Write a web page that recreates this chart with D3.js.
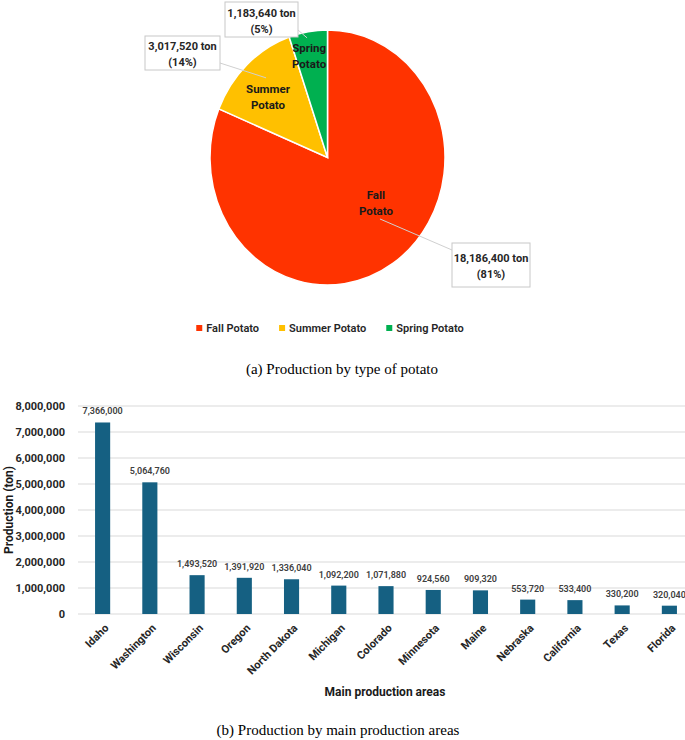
<!DOCTYPE html>
<html>
<head>
<meta charset="utf-8">
<script src="https://cdn.jsdelivr.net/npm/d3@7"></script>
<style>
  body { margin: 0; background: #fff; }
  svg { display: block; }
</style>
</head>
<body>
<div id="chart"></div>
<script>
// pie data
const potatoTypes = ['Fall Potato', 'Summer Potato', 'Spring Potato'];
const potatoLabels = [['Fall', 'Potato'], ['Summer', 'Potato'], ['Spring', 'Potato']];
const potatoTons = [18186400, 3017520, 1183640];
const potatoPercents = ['81%', '14%', '5%'];

// bar data
const states = ['Idaho', 'Washington', 'Wisconsin', 'Oregon', 'North Dakota', 'Michigan',
  'Colorado', 'Minnesota', 'Maine', 'Nebraska', 'California', 'Texas', 'Florida'];
const stateTons = [7366000, 5064760, 1493520, 1391920, 1336040, 1092200,
  1071880, 924560, 909320, 553720, 533400, 330200, 320040];
const yTicks = [0, 1000000, 2000000, 3000000, 4000000, 5000000, 6000000, 7000000, 8000000];

const W = 685, H = 740;
const sans = 'Roboto, "Liberation Sans", Arial, sans-serif';
const serif = '"Liberation Serif", "Times New Roman", serif';
const fmt = d3.format(',');

const svg = d3.select('#chart').append('svg')
  .attr('width', W)
  .attr('height', H);

// ---------- (a) pie ----------
const cx = 327.5, cy = 157.5, r = 117.5, sy = 127.5 / 117.5;
const pieColors = d3.scaleOrdinal().domain(potatoTypes).range(['#FF3300', '#FFC000', '#00B050']);

const pie = d3.pie().sort(null).value(d => d.value);
const arcs = pie(potatoTypes.map((t, i) => ({ type: t, value: potatoTons[i], i })));
const arc = d3.arc().innerRadius(0).outerRadius(r);

svg.append('g')
  .attr('transform', `translate(${cx},${cy}) scale(1,${sy})`)
  .selectAll('path')
  .data(arcs)
  .enter()
  .append('path')
  .attr('d', arc)
  .attr('fill', d => pieColors(d.data.type))
  .attr('stroke', '#fff')
  .attr('stroke-width', 1.5)
  .attr('vector-effect', 'non-scaling-stroke');

// where excel put the in-slice labels (angle offset in deg, radius fraction)
const labelPlace = [{ da: -16, k: 0.54 }, { da: -3, k: 0.70 }, { da: -1.5, k: 0.82 }];
const labelPos = arcs.map((d, i) => {
  const a = (d.startAngle + d.endAngle) / 2 + labelPlace[i].da * Math.PI / 180;
  const rr = r * labelPlace[i].k;
  return [cx + Math.sin(a) * rr, cy - Math.cos(a) * rr * sy];
});

// callout boxes: box + where the leader meets it
const callouts = [
  { x: 452, y: 243, w: 78, h: 44, jx: 452, jy: 250, ly: 17 },
  { x: 145, y: 36, w: 75, h: 34, jx: 220, jy: 63, ly: -18 },
  { x: 225, y: 2, w: 73, h: 35, jx: 298, jy: 30, ly: -17 }
];

const calloutG = svg.append('g');
callouts.forEach((c, i) => {
  const [lx, ly] = labelPos[i];
  calloutG.append('line')
    .attr('x1', lx + (i === 0 ? 4 : -2)).attr('y1', ly + c.ly)
    .attr('x2', c.jx).attr('y2', c.jy)
    .attr('stroke', '#d0d0d0')
    .attr('stroke-width', 1);
  calloutG.append('rect')
    .attr('x', c.x).attr('y', c.y)
    .attr('width', c.w).attr('height', c.h)
    .attr('fill', '#fff')
    .attr('stroke', '#c8c8c8')
    .attr('stroke-width', 1);
  const t = calloutG.append('text')
    .attr('text-anchor', 'middle')
    .style('font-family', sans)
    .style('font-size', '11px')
    .style('font-weight', '700')
    .style('fill', '#262626');
  t.append('tspan').attr('x', c.x + c.w / 2).attr('y', c.y + c.h / 2 - 3)
    .text(`${fmt(potatoTons[i])} ton`);
  t.append('tspan').attr('x', c.x + c.w / 2).attr('y', c.y + c.h / 2 + 13)
    .text(`(${potatoPercents[i]})`);
});

// slice labels
labelPos.forEach((p, i) => {
  const t = svg.append('text')
    .attr('text-anchor', 'middle')
    .style('font-family', sans)
    .style('font-size', '11.5px')
    .style('font-weight', '700')
    .style('fill', '#1a1a1a');
  t.append('tspan').attr('x', p[0]).attr('y', p[1] - 3).text(potatoLabels[i][0]);
  t.append('tspan').attr('x', p[0]).attr('y', p[1] + 13).text(potatoLabels[i][1]);
});

// legend
const legend = svg.append('g').attr('transform', 'translate(0,328)');
const items = legend.selectAll('g')
  .data(potatoTypes)
  .enter()
  .append('g');
items.append('rect')
  .attr('width', 6).attr('height', 6)
  .attr('y', -3)
  .attr('fill', d => pieColors(d));
items.append('text')
  .attr('x', 10)
  .attr('dy', '0.35em')
  .style('font-family', sans)
  .style('font-size', '11px')
  .style('font-weight', '600')
  .style('fill', '#262626')
  .text(d => d);
let widths = [];
items.each(function () { widths.push(this.getBBox().width); });
const gap = 20;
const total = d3.sum(widths) + gap * (widths.length - 1);
let xpos = 330 - total / 2;
items.attr('transform', (d, i) => {
  const s = `translate(${xpos},0)`;
  xpos += widths[i] + gap;
  return s;
});

svg.append('text')
  .attr('x', 342).attr('y', 374)
  .attr('text-anchor', 'middle')
  .style('font-family', serif)
  .style('font-size', '15px')
  .style('fill', '#000')
  .text('(a) Production by type of potato');

// ---------- (b) bars ----------
const x = d3.scaleBand()
  .domain(states)
  .range([79, 693])
  .paddingInner(0.68)
  .paddingOuter(0.34);
const y = d3.scaleLinear().domain([0, 8000000]).range([614, 406]);

const grid = svg.append('g');
grid.selectAll('line')
  .data(yTicks)
  .enter()
  .append('line')
  .attr('x1', 78).attr('x2', 693)
  .attr('y1', d => y(d)).attr('y2', d => y(d))
  .attr('stroke', '#d9d9d9')
  .attr('stroke-width', 1);

const yAxis = svg.append('g')
  .attr('transform', 'translate(65,0)')
  .call(d3.axisLeft(y).tickValues(yTicks).tickFormat(fmt).tickSize(0).tickPadding(0));
yAxis.select('.domain').remove();
yAxis.selectAll('text')
  .style('font-family', sans)
  .style('font-size', '11px')
  .style('font-weight', '700')
  .style('fill', '#262626');

svg.append('g')
  .selectAll('rect')
  .data(stateTons)
  .enter()
  .append('rect')
  .attr('x', (d, i) => x(states[i]))
  .attr('y', d => y(d))
  .attr('width', x.bandwidth())
  .attr('height', d => y(0) - y(d))
  .attr('fill', '#156082');

svg.append('g')
  .selectAll('text')
  .data(stateTons)
  .enter()
  .append('text')
  .attr('x', (d, i) => x(states[i]) + x.bandwidth() / 2)
  .attr('y', d => y(d) - 8)
  .attr('text-anchor', 'middle')
  .style('font-family', sans)
  .style('font-size', '9px')
  .style('font-weight', '600')
  .style('fill', '#404040')
  .text(d => fmt(d));

const xAxis = svg.append('g')
  .attr('transform', 'translate(0,614)')
  .call(d3.axisBottom(x).tickSize(0));
xAxis.select('.domain').remove();
xAxis.selectAll('text')
  .attr('transform', 'translate(4,12) rotate(-45)')
  .attr('x', 0).attr('y', 0).attr('dy', '0.35em')
  .attr('text-anchor', 'end')
  .style('font-family', sans)
  .style('font-size', '11px')
  .style('font-weight', '700')
  .style('fill', '#262626');

svg.append('text')
  .attr('transform', 'translate(9,510) rotate(-90)')
  .attr('text-anchor', 'middle')
  .attr('dy', '0.35em')
  .style('font-family', sans)
  .style('font-size', '12px')
  .style('font-weight', '700')
  .style('fill', '#1a1a1a')
  .text('Production (ton)');

svg.append('text')
  .attr('x', 385).attr('y', 696)
  .attr('text-anchor', 'middle')
  .style('font-family', sans)
  .style('font-size', '12px')
  .style('font-weight', '700')
  .style('fill', '#1a1a1a')
  .text('Main production areas');

svg.append('text')
  .attr('x', 338).attr('y', 735)
  .attr('text-anchor', 'middle')
  .style('font-family', serif)
  .style('font-size', '15px')
  .style('fill', '#000')
  .text('(b) Production by main production areas');
</script>
</body>
</html>
